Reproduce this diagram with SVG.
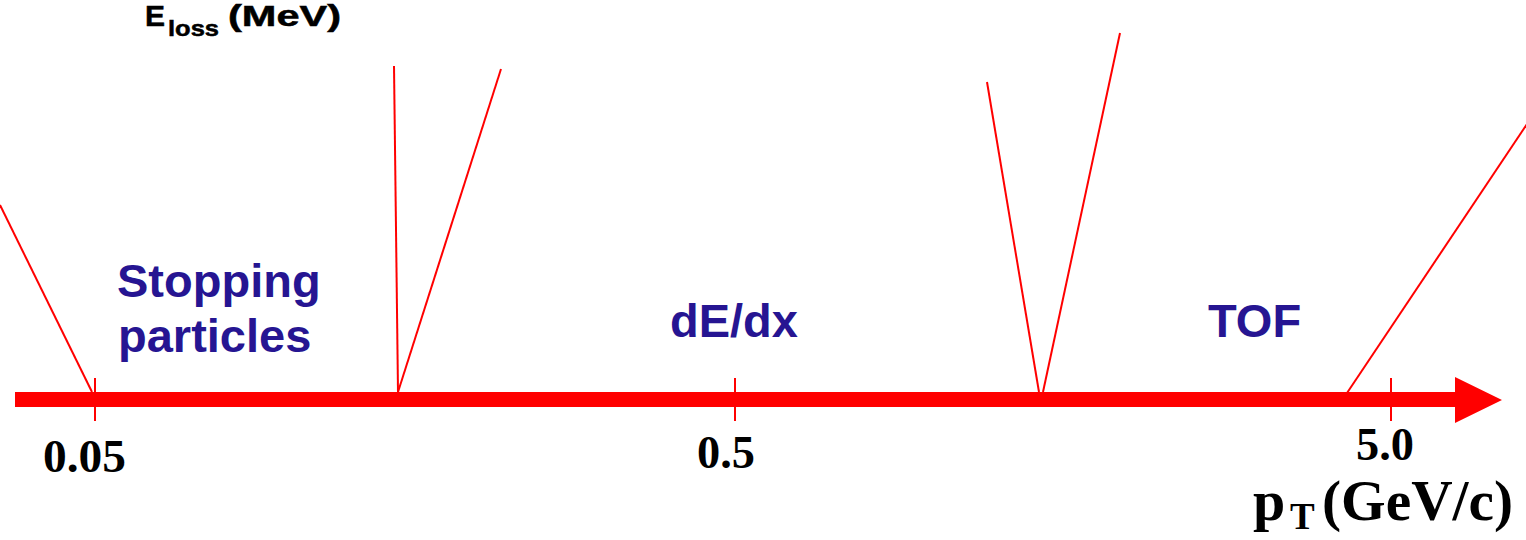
<svg xmlns="http://www.w3.org/2000/svg" width="1526" height="540" viewBox="0 0 1526 540">
<style>
.ln{stroke:#ff0000;stroke-width:2;fill:none}
.tk{stroke:#ff0000;stroke-width:2}
.blue{font-family:"Liberation Sans",Arial,sans-serif;font-weight:bold;font-size:47px;fill:#261592}
.num{font-family:"Liberation Serif","Times New Roman",serif;font-weight:bold;font-size:47px;fill:#000}
.ax{font-family:"Liberation Serif","Times New Roman",serif;font-weight:bold;fill:#000}
.yl{font-family:"Liberation Sans",Arial,sans-serif;font-weight:bold;fill:#000;stroke:#000;stroke-width:0.5}
</style>
<rect width="1526" height="540" fill="#fff"/>
<g id="y-label">
<text class="yl" x="145" y="26" font-size="29" textLength="20" lengthAdjust="spacingAndGlyphs">E</text>
<text class="yl" x="168" y="36" font-size="22" textLength="51" lengthAdjust="spacingAndGlyphs">loss</text>
<text class="yl" x="228" y="26" font-size="29" textLength="113" lengthAdjust="spacingAndGlyphs">(MeV)</text>
</g>
<g id="connectors">
<line class="ln" x1="0" y1="205" x2="92" y2="392"/>
<line class="ln" x1="394" y1="66" x2="398" y2="392"/>
<line class="ln" x1="501" y1="69" x2="398" y2="392"/>
<line class="ln" x1="987" y1="82" x2="1039" y2="392"/>
<line class="ln" x1="1120" y1="33" x2="1043" y2="392"/>
<line class="ln" x1="1527" y1="124" x2="1347" y2="393"/>
</g>
<g id="axis">
<polygon fill="#ff0000" points="15,392 1455,392 1455,377 1502,400 1455,423 1455,407 15,407"/>
<line class="tk" x1="95" y1="378" x2="95" y2="421"/>
<line class="tk" x1="735" y1="378" x2="735" y2="421"/>
<line class="tk" x1="1391" y1="378" x2="1391" y2="421"/>
</g>
<g id="tick-labels">
<text class="num" x="43" y="472" textLength="83" lengthAdjust="spacingAndGlyphs">0.05</text>
<text class="num" x="697" y="468" textLength="58" lengthAdjust="spacingAndGlyphs">0.5</text>
<text class="num" x="1356" y="460" textLength="58" lengthAdjust="spacingAndGlyphs">5.0</text>
</g>
<g id="x-label">
<text class="ax" x="1253" y="520" font-size="58">p</text>
<text class="ax" x="1290" y="529" font-size="37">T</text>
<text class="ax" x="1322" y="520" font-size="58" textLength="191" lengthAdjust="spacingAndGlyphs">(GeV/c)</text>
</g>
<g id="region-stopping">
<text class="blue" x="117" y="297">Stopping</text>
<text class="blue" x="118" y="352">particles</text>
</g>
<g id="region-dedx">
<text class="blue" x="670" y="337">dE/dx</text>
</g>
<g id="region-tof">
<text class="blue" x="1208" y="337">TOF</text>
</g>
</svg>
